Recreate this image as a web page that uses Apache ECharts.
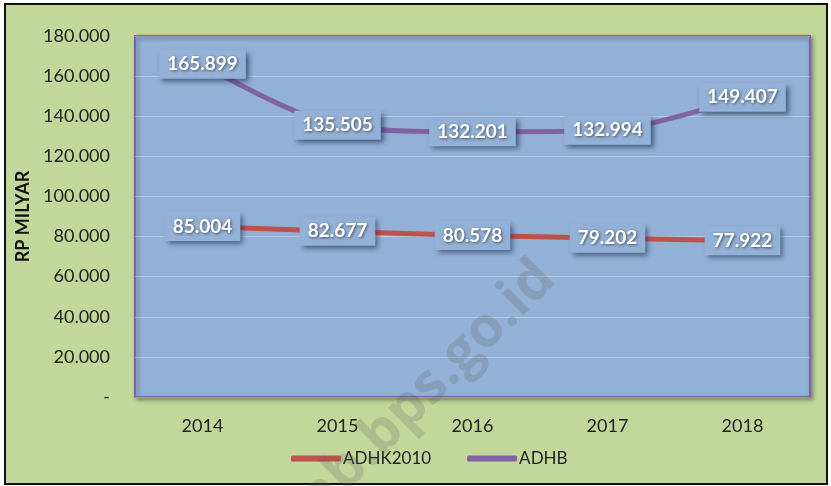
<!DOCTYPE html>
<html>
<head>
<meta charset="utf-8">
<script src="https://cdn.jsdelivr.net/npm/echarts@6/dist/echarts.min.js"></script>
<style>
  html, body { margin: 0; padding: 0; background: #fff; }
  #chart { width: 831px; height: 486px; }
</style>
</head>
<body>
<div id="chart"></div>
<script>
// tahun dan nilai PDRB (ditampilkan dengan titik ribuan)
var years = ['2014', '2015', '2016', '2017', '2018'];
var adhk2010 = [85004, 82677, 80578, 79202, 77922];
var adhb = [165899, 135505, 132201, 132994, 149407];

function fmt(v) {
    if (v === 0) return '-';
    var s = String(Math.round(v));
    return s.replace(/\B(?=(\d{3})+(?!\d))/g, '.');
}

var labelStyle = {
    show: true,
    position: 'inside',
    formatter: function (p) { return fmt(p.value); },
    color: '#fff',
    fontFamily: 'Lato',
    fontWeight: 'bold',
    fontSize: 19,
    textShadowColor: 'rgba(0,0,0,0.55)',
    textShadowBlur: 3,
    textShadowOffsetX: 1,
    textShadowOffsetY: 1,
    backgroundColor: '#93b1d6',
    padding: [6, 8, 4, 8],
    shadowColor: 'rgba(20,40,70,0.6)',
    shadowBlur: 5,
    shadowOffsetX: 3,
    shadowOffsetY: 3
};

var chart = echarts.init(document.getElementById('chart'));
chart.setOption({
    backgroundColor: '#fff',
    animation: false,
    graphic: [
        {
            type: 'rect', left: 4, top: 3, z: -10,
            shape: { width: 822, height: 480 },
            style: { fill: '#c4d79b', stroke: '#111', lineWidth: 2 }
        },
        {
            type: 'text', left: 290, top: 250, z: 100, rotation: Math.PI / 4,
            style: {
                text: 'ab.bps.go.id', fill: 'rgba(90,90,90,0.22)',
                font: 'bold 56px "Open Sans"'
            }
        }
    ],
    grid: {
        left: 135, right: 21, top: 36, bottom: 89,
        show: true,
        backgroundColor: '#93b1d6',
        borderColor: '#8064a2',
        borderWidth: 2,
        shadowColor: 'rgba(0,0,0,0.35)',
        shadowBlur: 4,
        shadowOffsetX: 2,
        shadowOffsetY: 2
    },
    legend: {
        bottom: 14,
        left: 286,
        itemWidth: 50,
        itemHeight: 6,
        itemGap: 36,
        icon: 'roundRect',
        textStyle: { fontFamily: 'Lato', fontSize: 17, color: '#222', padding: [0, 0, 0, -3] },
        data: ['ADHK2010', 'ADHB']
    },
    xAxis: {
        type: 'category',
        data: years,
        boundaryGap: true,
        axisLine: { show: false },
        axisTick: { show: false },
        axisLabel: { fontFamily: 'Lato', fontSize: 18, color: '#222', margin: 20 }
    },
    yAxis: {
        type: 'value',
        name: 'RP MILYAR',
        nameLocation: 'middle',
        nameGap: 102,
        nameTextStyle: { fontFamily: 'Lato', fontWeight: 'bold', fontSize: 18, color: '#111' },
        min: 0,
        max: 180000,
        interval: 20000,
        axisLine: { show: false },
        axisTick: { show: false },
        axisLabel: {
            fontFamily: 'Lato', fontSize: 18, color: '#222', margin: 25,
            formatter: fmt
        },
        splitLine: { lineStyle: { color: 'rgba(255,255,255,0.3)', width: 1 } }
    },
    series: [
        {
            name: 'ADHK2010',
            type: 'line',
            smooth: 0.3,
            symbol: 'circle',
            symbolSize: 0,
            data: adhk2010,
            lineStyle: { color: '#c0504d', width: 5 },
            itemStyle: { color: '#c0504d' },
            label: labelStyle,
            z: 3
        },
        {
            name: 'ADHB',
            type: 'line',
            smooth: 0.3,
            symbol: 'circle',
            symbolSize: 0,
            data: adhb,
            lineStyle: { color: '#8064a2', width: 5 },
            itemStyle: { color: '#8064a2' },
            label: labelStyle,
            z: 3
        }
    ]
});
</script>
</body>
</html>
